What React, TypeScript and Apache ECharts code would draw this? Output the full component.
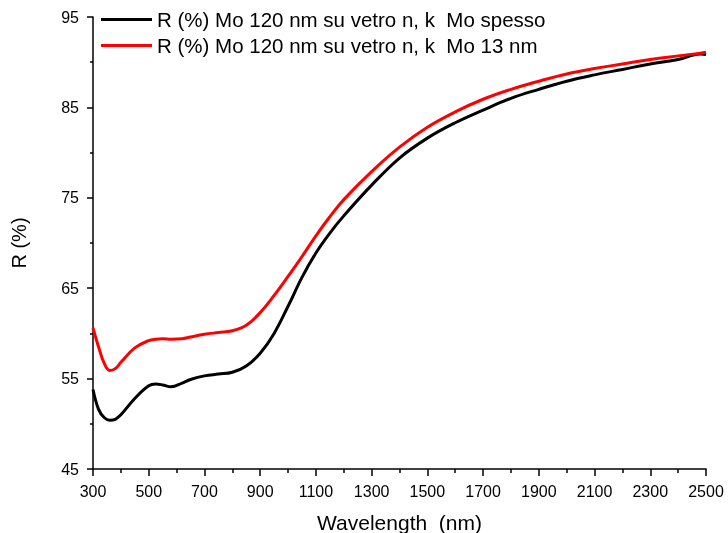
import React, { useEffect, useRef } from "react";
import * as echarts from "echarts";

const wavelengths = [300, 320, 340, 360, 380, 400, 450, 500, 525, 550, 580, 620, 650, 700, 750, 800, 850, 900, 950, 1000, 1050, 1100, 1150, 1200, 1300, 1400, 1500, 1600, 1700, 1800, 1900, 2000, 2100, 2200, 2300, 2400, 2480, 2500];
const rSpesso = [53.8, 51.6, 50.7, 50.4, 50.5, 51.0, 52.8, 54.2, 54.4, 54.3, 54.1, 54.5, 54.9, 55.3, 55.5, 55.7, 56.4, 57.8, 60.0, 63.0, 66.2, 68.9, 71.1, 73.0, 76.4, 79.4, 81.6, 83.3, 84.7, 86.0, 87.0, 87.9, 88.6, 89.2, 89.8, 90.3, 90.9, 90.85];
const r13nm = [60.6, 58.5, 56.7, 55.9, 56.1, 56.8, 58.4, 59.2, 59.35, 59.4, 59.35, 59.4, 59.6, 59.9, 60.1, 60.3, 60.9, 62.3, 64.2, 66.3, 68.5, 70.8, 72.9, 74.8, 77.9, 80.6, 82.8, 84.5, 85.9, 87.0, 87.9, 88.7, 89.3, 89.8, 90.3, 90.7, 91.0, 91.1];
const seriesNames = [
  "R (%) Mo 120 nm su vetro n, k  Mo spesso",
  "R (%) Mo 120 nm su vetro n, k  Mo 13 nm",
];
const xTitle = "Wavelength  (nm)";
const yTitle = "R (%)";

export default function App() {
  const ref = useRef<HTMLDivElement>(null);
  useEffect(() => {
    if (!ref.current) return;
    const chart = echarts.init(ref.current, null, { renderer: "svg" });
    const font = "Liberation Sans, Arial, sans-serif";
    chart.setOption({
      animation: false,
      textStyle: { fontFamily: font },
      grid: { left: 93, right: 22, top: 17, bottom: 64, containLabel: false, outerBoundsMode: "none" },
      legend: {
        left: 101,
        top: 9,
        padding: 0,
        orient: "vertical",
        itemWidth: 51,
        itemHeight: 3,
        itemGap: 5,
        icon: "rect",
        textStyle: { fontSize: 20.5, color: "#000", fontFamily: font, lineHeight: 20 },
        data: seriesNames,
      },
      xAxis: {
        type: "value",
        min: 300,
        max: 2500,
        interval: 200,
        name: xTitle,
        nameLocation: "middle",
        nameGap: 43,
        nameTextStyle: { fontSize: 21, color: "#000", fontFamily: font },
        axisLine: { show: true, lineStyle: { color: "#000", width: 1.5 } },
        axisTick: { show: true, inside: false, length: 7, lineStyle: { color: "#000", width: 1.5 } },
        minorTick: { show: true, splitNumber: 2, length: 4, lineStyle: { color: "#000", width: 1.5 } },
        axisLabel: { fontSize: 16, color: "#000", margin: 14, fontFamily: font, formatter: (v: number) => String(v) },
        splitLine: { show: false },
      },
      yAxis: {
        type: "value",
        min: 45,
        max: 95,
        interval: 10,
        name: yTitle,
        nameLocation: "middle",
        nameGap: 64,
        nameRotate: 90,
        nameTextStyle: { fontSize: 20, color: "#000", fontFamily: font },
        axisLine: { show: true, lineStyle: { color: "#000", width: 1.5 } },
        axisTick: { show: true, inside: false, length: 6, lineStyle: { color: "#000", width: 1.5 } },
        minorTick: { show: true, splitNumber: 2, length: 3, lineStyle: { color: "#000", width: 1.5 } },
        axisLabel: { fontSize: 16, color: "#000", margin: 14, fontFamily: font, formatter: (v: number) => String(v) },
        splitLine: { show: false },
      },
      series: [
        {
          name: seriesNames[0],
          type: "line",
          data: wavelengths.map((w, i) => [w, rSpesso[i]]),
          showSymbol: false,
          smooth: 0.4,
          lineStyle: { color: "#000", width: 3 },
          itemStyle: { color: "#000" },
        },
        {
          name: seriesNames[1],
          type: "line",
          data: wavelengths.map((w, i) => [w, r13nm[i]]),
          showSymbol: false,
          smooth: 0.4,
          lineStyle: { color: "#ff0000", width: 3 },
          itemStyle: { color: "#ff0000" },
        },
      ],
    });
    return () => chart.dispose();
  }, []);
  return <div ref={ref} style={{ position: "fixed", left: 0, top: 0, width: 728, height: 533 }} />;
}
